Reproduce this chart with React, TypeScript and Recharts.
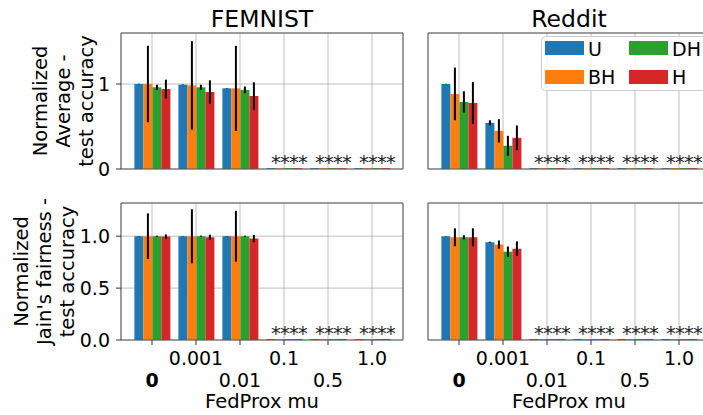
import React from "react";
import { BarChart, Bar, XAxis, YAxis, CartesianGrid, ErrorBar, LabelList } from "recharts";

const categories = ["0", "0.001", "0.01", "0.1", "0.5", "1.0"];
const seriesNames = ["U", "BH", "DH", "H"];
const seriesColors = ["#1f77b4", "#ff7f0e", "#2ca02c", "#d62728"];

// runs that did not finish: a stub on the baseline marked with stars
const femnistFailed = [false, false, false, true, true, true];
const redditFailed = [false, false, true, true, true, true];

// FEMNIST, normalized average test accuracy
const femnistAvgU = [1.0, 0.992, 0.949, 0.01, 0.01, 0.01];
const femnistAvgBH = [1.0, 0.984, 0.949, 0.01, 0.01, 0.01];
const femnistAvgDH = [0.961, 0.961, 0.93, 0.01, 0.01, 0.01];
const femnistAvgH = [0.941, 0.906, 0.859, 0.01, 0.01, 0.01];
const femnistAvgErrU = [0.003, 0.003, 0.003, null, null, null];
const femnistAvgErrBH = [0.45, 0.52, 0.5, null, null, null];
const femnistAvgErrDH = [0.03, 0.03, 0.04, null, null, null];
const femnistAvgErrH = [0.11, 0.137, 0.16, null, null, null];

// Reddit, normalized average test accuracy
const redditAvgU = [1.0, 0.543, 0.01, 0.01, 0.01, 0.01];
const redditAvgBH = [0.883, 0.449, 0.01, 0.01, 0.01, 0.01];
const redditAvgDH = [0.789, 0.273, 0.01, 0.01, 0.01, 0.01];
const redditAvgH = [0.777, 0.367, 0.01, 0.01, 0.01, 0.01];
const redditAvgErrU = [0.003, 0.03, null, null, null, null];
const redditAvgErrBH = [0.31, 0.137, null, null, null, null];
const redditAvgErrDH = [0.125, 0.117, null, null, null, null];
const redditAvgErrH = [0.246, 0.145, null, null, null, null];

// FEMNIST, normalized Jain's fairness
const femnistJainU = [1.0, 1.0, 1.0, 0.01, 0.01, 0.01];
const femnistJainBH = [1.0, 1.0, 1.0, 0.01, 0.01, 0.01];
const femnistJainDH = [1.0, 1.0, 1.0, 0.01, 0.01, 0.01];
const femnistJainH = [0.997, 0.99, 0.977, 0.01, 0.01, 0.01];
const femnistJainErrU = [0.002, 0.002, 0.002, null, null, null];
const femnistJainErrBH = [0.22, 0.26, 0.245, null, null, null];
const femnistJainErrDH = [0.005, 0.005, 0.005, null, null, null];
const femnistJainErrH = [0.02, 0.024, 0.035, null, null, null];

// Reddit, normalized Jain's fairness
const redditJainU = [1.0, 0.942, 0.01, 0.01, 0.01, 0.01];
const redditJainBH = [0.99, 0.919, 0.01, 0.01, 0.01, 0.01];
const redditJainDH = [0.99, 0.851, 0.01, 0.01, 0.01, 0.01];
const redditJainH = [0.99, 0.88, 0.01, 0.01, 0.01, 0.01];
const redditJainErrU = [0.002, 0.005, null, null, null, null];
const redditJainErrBH = [0.086, 0.04, null, null, null, null];
const redditJainErrDH = [0.02, 0.05, null, null, null, null];
const redditJainErrH = [0.086, 0.07, null, null, null, null];

const avgTicks = [0, 1];
const jainTicks = [0, 0.5, 1.0];

const buildRows = (values: number[][], errors: (number | null)[][], failed: boolean[]) =>
  categories.map((name, i) => {
    const row: any = { name, failed: failed[i] };
    seriesNames.forEach((s, k) => {
      row[s] = values[k][i];
      row[s + "Err"] = errors[k][i];
    });
    return row;
  });

const femnistAvgRows = buildRows(
  [femnistAvgU, femnistAvgBH, femnistAvgDH, femnistAvgH],
  [femnistAvgErrU, femnistAvgErrBH, femnistAvgErrDH, femnistAvgErrH],
  femnistFailed
);
const redditAvgRows = buildRows(
  [redditAvgU, redditAvgBH, redditAvgDH, redditAvgH],
  [redditAvgErrU, redditAvgErrBH, redditAvgErrDH, redditAvgErrH],
  redditFailed
);
const femnistJainRows = buildRows(
  [femnistJainU, femnistJainBH, femnistJainDH, femnistJainH],
  [femnistJainErrU, femnistJainErrBH, femnistJainErrDH, femnistJainErrH],
  femnistFailed
);
const redditJainRows = buildRows(
  [redditJainU, redditJainBH, redditJainDH, redditJainH],
  [redditJainErrU, redditJainErrBH, redditJainErrDH, redditJainErrH],
  redditFailed
);

const FONT = "DejaVu Sans";
const W = 720;
const H = 415;
const X_PAD = 9;
const spine = { stroke: "#5a5a5a", strokeWidth: 1.2 };
const tickMark = { stroke: "#333", strokeWidth: 1 };

// vertical grid lines through the middle of each category (the band scale with padding)
const verticalGrid = ({ offset }: any) => {
  if (!offset) return [];
  const band = (offset.width - 2 * X_PAD) / categories.length;
  return categories.map((_, i) => offset.left + X_PAD + band * (i + 0.5));
};

const StaggeredTick = (props: any) => {
  const { x, y, payload } = props;
  const idx = payload?.index ?? props.index ?? 0;
  const low = idx % 2 === 0;
  return (
    <text
      x={x}
      y={y + (low ? 42 : 20)}
      textAnchor="middle"
      fontSize={19}
      fontFamily={FONT}
      fontWeight={payload.value === "0" ? "bold" : "normal"}
      fill="#000"
    >
      {payload.value}
    </text>
  );
};

const makeStar = (rows: any[]) => (props: any) => {
  const { index } = props;
  if (!rows[index] || !rows[index].failed) return null;
  const vb = props.viewBox || {};
  const x = props.x ?? vb.x;
  const y = props.y ?? vb.y;
  const w = props.width ?? vb.width ?? 0;
  const h = props.height ?? vb.height ?? 0;
  return (
    <text x={x + w / 2} y={y + h} textAnchor="start" fontSize={19.5} fontFamily={FONT} fill="#222">
      *
    </text>
  );
};

type PanelProps = {
  rows: any[];
  left: number;
  right: number;
  top: number;
  bottom: number;
  yTicks: number[];
  yMax: number;
  yFormat: (v: number) => string;
  yLabels: boolean;
  xLabels: boolean;
};

const Panel = ({ rows, left, right, top, bottom, yTicks, yMax, yFormat, yLabels, xLabels }: PanelProps) => {
  const star = makeStar(rows);
  return (
    <div style={{ position: "absolute", left: 0, top: 0 }}>
      <BarChart
        width={W}
        height={H}
        data={rows}
        margin={{ top: top - 1, left: left - 1, right: W - right - 1, bottom: H - bottom - 1 }}
        barCategoryGap="10%"
        barGap={0}
      >
        <CartesianGrid stroke="#b0b0b0" strokeWidth={0.8} verticalCoordinatesGenerator={verticalGrid} />
        <XAxis
          dataKey="name"
          height={1}
          padding={{ left: X_PAD, right: X_PAD }}
          axisLine={spine}
          tickLine={tickMark}
          tickSize={5}
          tickMargin={0}
          interval={0}
          tick={xLabels ? <StaggeredTick /> : false}
        />
        <XAxis xAxisId="top" orientation="top" dataKey="name" height={1} tick={false} tickLine={false} axisLine={spine} />
        <YAxis
          type="number"
          domain={[0, yMax]}
          ticks={yTicks}
          width={1}
          allowDataOverflow
          axisLine={spine}
          tickLine={tickMark}
          tickSize={5}
          tickMargin={6}
          tickFormatter={yFormat}
          tick={yLabels ? { fill: "#000", fontSize: 19, fontFamily: FONT } : false}
        />
        <YAxis
          yAxisId="right"
          orientation="right"
          type="number"
          domain={[0, 1]}
          width={1}
          tick={false}
          tickLine={false}
          axisLine={spine}
        />
        {seriesNames.map((s, k) => (
          <Bar key={s} dataKey={s} fill={seriesColors[k]} isAnimationActive={false}>
            <ErrorBar dataKey={s + "Err"} width={0} stroke="#000" strokeWidth={2} direction="y" />
            <LabelList dataKey={s} content={star} />
          </Bar>
        ))}
      </BarChart>
    </div>
  );
};

const RotLabel = ({ x, y, text }: { x: number; y: number; text: string }) => (
  <text x={x} y={y} transform={`rotate(-90 ${x} ${y})`} textAnchor="middle" fontSize={19.5} fontFamily={FONT} fill="#000">
    {text}
  </text>
);

export default function App() {
  return (
    <div
      style={{
        position: "absolute",
        left: 0,
        top: 0,
        width: 703,
        height: 415,
        overflow: "hidden",
        background: "#fff",
        fontFamily: FONT,
      }}
    >
      <Panel rows={femnistAvgRows} left={121} right={403} top={33} bottom={169} yTicks={avgTicks} yMax={1.6} yFormat={(v) => String(v)} yLabels xLabels={false} />
      <Panel rows={redditAvgRows} left={428} right={710} top={33} bottom={169} yTicks={avgTicks} yMax={1.6} yFormat={(v) => String(v)} yLabels={false} xLabels={false} />
      <Panel rows={femnistJainRows} left={121} right={403} top={203} bottom={340} yTicks={jainTicks} yMax={1.32} yFormat={(v) => v.toFixed(1)} yLabels xLabels />
      <Panel rows={redditJainRows} left={428} right={710} top={203} bottom={340} yTicks={jainTicks} yMax={1.32} yFormat={(v) => v.toFixed(1)} yLabels={false} xLabels />

      <svg width={703} height={415} style={{ position: "absolute", left: 0, top: 0 }}>
        <text x={262} y={27} textAnchor="middle" fontSize={23.5} fontFamily={FONT}>FEMNIST</text>
        <text x={569} y={27} textAnchor="middle" fontSize={23.5} fontFamily={FONT}>Reddit</text>

        <RotLabel x={46.5} y={101} text="Normalized" />
        <RotLabel x={69.5} y={101} text="Average -" />
        <RotLabel x={92.5} y={101} text="test accuracy" />

        <RotLabel x={28} y={271.5} text="Normalized" />
        <RotLabel x={51} y={271.5} text="Jain's fairness -" />
        <RotLabel x={74} y={271.5} text="test accuracy" />

        <text x={262} y={408} textAnchor="middle" fontSize={19.5} fontFamily={FONT}>FedProx mu</text>
        <text x={569} y={408} textAnchor="middle" fontSize={19.5} fontFamily={FONT}>FedProx mu</text>

        <rect x={541.5} y={36.5} width={200} height={54} rx={4} fill="#fff" fillOpacity={0.8} stroke="#cccccc" />
        <rect x={545} y={41} width={39} height={14} fill={seriesColors[0]} />
        <text x={588} y={55.5} fontSize={19} fontFamily={FONT}>{seriesNames[0]}</text>
        <rect x={545} y={70} width={39} height={14} fill={seriesColors[1]} />
        <text x={588} y={84} fontSize={19} fontFamily={FONT}>{seriesNames[1]}</text>
        <rect x={629} y={41} width={39} height={14} fill={seriesColors[2]} />
        <text x={672} y={55.5} fontSize={19} fontFamily={FONT}>{seriesNames[2]}</text>
        <rect x={629} y={70} width={39} height={14} fill={seriesColors[3]} />
        <text x={672} y={84} fontSize={19} fontFamily={FONT}>{seriesNames[3]}</text>
      </svg>
    </div>
  );
}
